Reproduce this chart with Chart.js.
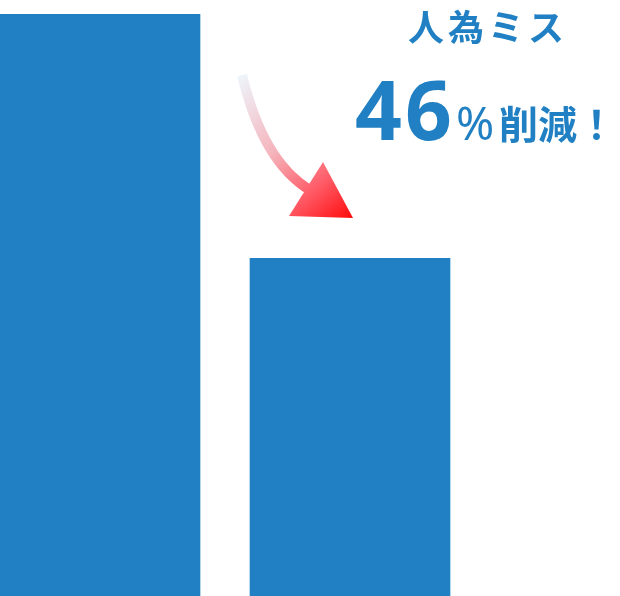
<!DOCTYPE html>
<html>
<head>
<meta charset="utf-8">
<script src="https://cdn.jsdelivr.net/npm/chart.js@4.4.1/dist/chart.umd.min.js"></script>
<style>
  html, body { margin: 0; padding: 0; background: #fff; }
  #wrap { position: relative; width: 620px; height: 596px; }
</style>
</head>
<body>
<div id="wrap"><canvas id="chart"></canvas></div>
<script>
// chart data
const categories = ['導入前', '導入後'];
const values = [100, 58];
const headline = '人為ミス';
const rateNumber = '46';
const rateUnit = '%';
const rateText = '削減！';

const barColor = '#2180c3';

// curved gradient arrow + callout text, drawn on top of the bars
const calloutPlugin = {
  id: 'callout',
  afterDraw(chart) {
    const ctx = chart.ctx;
    ctx.save();

    // arrow
    const grad = ctx.createLinearGradient(240, 75, 353, 218);
    grad.addColorStop(0, '#eef5fc');
    grad.addColorStop(0.45, '#f5b3bb');
    grad.addColorStop(0.75, '#ff5a66');
    grad.addColorStop(1, '#ff0a0a');

    ctx.strokeStyle = grad;
    ctx.lineWidth = 10;
    ctx.lineCap = 'butt';
    ctx.beginPath();
    ctx.moveTo(242, 75);
    ctx.quadraticCurveTo(263, 162, 310, 190);
    ctx.stroke();

    ctx.fillStyle = grad;
    ctx.beginPath();
    ctx.moveTo(323, 162);
    ctx.lineTo(353, 218);
    ctx.lineTo(289, 216);
    ctx.closePath();
    ctx.fill();

    // text
    ctx.fillStyle = barColor;
    ctx.textBaseline = 'alphabetic';
    ctx.textAlign = 'center';
    ctx.font = "bold 36px 'Noto Sans CJK JP'";
    ctx.letterSpacing = '4px';
    ctx.fillText(headline, 488, 41);

    ctx.textAlign = 'left';
    ctx.letterSpacing = '3px';
    ctx.font = "bold 82px 'Noto Sans'";
    ctx.fillText(rateNumber, 355, 140);
    ctx.letterSpacing = '0px';
    ctx.font = "46px 'Noto Sans'";
    ctx.fillText(rateUnit, 456, 140);
    ctx.font = "bold 39px 'Noto Sans CJK JP'";
    ctx.fillText(rateText, 499, 139);

    ctx.restore();
  }
};

new Chart(document.getElementById('chart'), {
  type: 'bar',
  data: {
    labels: categories,
    datasets: [{
      data: values.map((v, i) => ({ x: i, y: v })),
      backgroundColor: barColor,
      borderWidth: 0,
      barThickness: 200
    }]
  },
  options: {
    responsive: true,
    maintainAspectRatio: false,
    animation: false,
    layout: { padding: { top: 14, left: 0, right: 0, bottom: 0 } },
    plugins: {
      legend: { display: false },
      tooltip: { enabled: false }
    },
    scales: {
      x: { type: 'linear', min: -0.4, max: 2.08, offset: false, display: false },
      y: { min: 0, max: 100, display: false }
    }
  },
  plugins: [calloutPlugin]
});
</script>
</body>
</html>
